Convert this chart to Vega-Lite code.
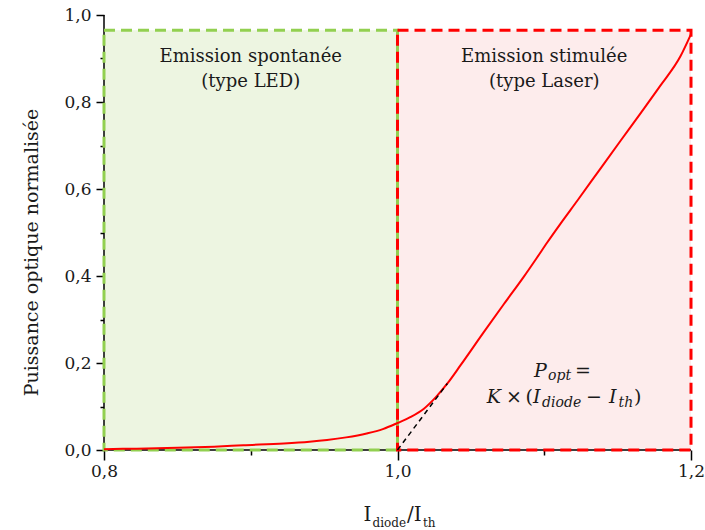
{
  "$schema": "https://vega.github.io/schema/vega-lite/v6.json",
  "width": 587,
  "height": 435,
  "autosize": "none",
  "padding": {"left": 104, "top": 15, "right": 14, "bottom": 80},
  "background": "white",
  "config": {"view": {"stroke": null}, "font": "DejaVu Serif"},
  "datasets": {
    "rects": [
      {"region": "spont", "x": 0.8, "x2": 1.0, "y": 0, "y2": 0.965},
      {"region": "stim", "x": 1.0, "x2": 1.2, "y": 0, "y2": 0.965}
    ],
    "axlines": [
      {"x": 0.8, "x2": 0.8, "y": 0, "y2": 1.0},
      {"x": 0.8, "x2": 1.2, "y": 0, "y2": 0}
    ],
    "curve": [
      {"x": 0.8, "y": 0.002}, {"x": 0.82, "y": 0.003}, {"x": 0.85, "y": 0.005},
      {"x": 0.875, "y": 0.0077}, {"x": 0.895, "y": 0.011}, {"x": 0.9225, "y": 0.015},
      {"x": 0.94, "y": 0.019}, {"x": 0.952, "y": 0.023}, {"x": 0.965, "y": 0.029},
      {"x": 0.979, "y": 0.038}, {"x": 0.99, "y": 0.048}, {"x": 1.0, "y": 0.062},
      {"x": 1.009, "y": 0.076}, {"x": 1.018, "y": 0.095}, {"x": 1.026, "y": 0.121},
      {"x": 1.034, "y": 0.153}, {"x": 1.043, "y": 0.195}, {"x": 1.0588, "y": 0.271},
      {"x": 1.0724, "y": 0.335}, {"x": 1.086, "y": 0.398}, {"x": 1.095, "y": 0.442},
      {"x": 1.102, "y": 0.477}, {"x": 1.111, "y": 0.520}, {"x": 1.1225, "y": 0.573},
      {"x": 1.1383, "y": 0.647}, {"x": 1.152, "y": 0.711}, {"x": 1.1656, "y": 0.774},
      {"x": 1.179, "y": 0.837}, {"x": 1.1928, "y": 0.905}, {"x": 1.2, "y": 0.956}
    ],
    "tangent": [{"x": 1.0, "y": 0}, {"x": 1.034, "y": 0.153}],
    "regionText": [
      {"t": "Emission spontanée", "x": 0.9, "y": 0.8926},
      {"t": "(type LED)", "x": 0.9, "y": 0.8352},
      {"t": "Emission stimulée", "x": 1.1, "y": 0.8926},
      {"t": "(type Laser)", "x": 1.1, "y": 0.8352}
    ],
    "xtitle": [
      {"t": "I", "x": 0.9768, "y": -0.1632, "fs": 20},
      {"t": "diode", "x": 0.9830, "y": -0.177, "fs": 12},
      {"t": "/I", "x": 1.0065, "y": -0.1632, "fs": 20},
      {"t": "th", "x": 1.0174, "y": -0.177, "fs": 12}
    ],
    "mathItalic": [
      {"t": "P", "x": 1.0930, "y": 0.1685, "fs": 19},
      {"t": "opt", "x": 1.1026, "y": 0.161, "fs": 14},
      {"t": "K", "x": 1.0608, "y": 0.1074, "fs": 19},
      {"t": "I", "x": 1.0923, "y": 0.1074, "fs": 19},
      {"t": "diode", "x": 1.0985, "y": 0.0995, "fs": 14},
      {"t": "I", "x": 1.1441, "y": 0.1074, "fs": 19},
      {"t": "th", "x": 1.1506, "y": 0.0995, "fs": 14}
    ],
    "mathUpright": [
      {"t": "=", "x": 1.1210, "y": 0.1685, "fs": 19},
      {"t": "×", "x": 1.0739, "y": 0.1074, "fs": 19},
      {"t": "(", "x": 1.0872, "y": 0.1074, "fs": 19},
      {"t": "−", "x": 1.1285, "y": 0.1074, "fs": 19},
      {"t": ")", "x": 1.1612, "y": 0.1074, "fs": 19}
    ]
  },
  "resolve": {"axis": {"x": "independent", "y": "independent"}},
  "layer": [
    {
      "data": {"name": "rects"},
      "mark": {"type": "rect"},
      "encoding": {
        "x": {"field": "x", "type": "quantitative", "scale": {"domain": [0.8, 1.2], "nice": false, "zero": false},
          "axis": {"orient": "bottom", "values": [0.8, 1.0, 1.2], "labelExpr": "replace(format(datum.value, '.1f'), '.', ',')",
            "domain": false, "grid": false, "tickSize": 10, "tickColor": "black", "tickWidth": 1.5,
            "labelFontSize": 17, "labelPadding": 3, "labelColor": "#1a1a1a", "labelFont": "DejaVu Serif",
            "labelFlush": false, "labelOverlap": false, "title": null}},
        "x2": {"field": "x2"},
        "y": {"field": "y", "type": "quantitative", "scale": {"domain": [0, 1], "nice": false, "zero": false},
          "axis": {"orient": "left", "values": [0, 0.2, 0.4, 0.6, 0.8, 1.0], "labelExpr": "replace(format(datum.value, '.1f'), '.', ',')",
            "domain": false, "grid": false, "tickSize": 8, "tickColor": "black", "tickWidth": 1.5,
            "labelFontSize": 17, "labelPadding": 5, "labelColor": "#1a1a1a", "labelFont": "DejaVu Serif",
            "labelFlush": false, "labelOverlap": false,
            "title": "Puissance optique normalisée", "titleFont": "DejaVu Serif", "titleFontSize": 19,
            "titleFontWeight": "normal", "titleColor": "#1a1a1a", "titlePadding": 22, "titleY": 237}},
        "y2": {"field": "y2"},
        "fill": {"field": "region", "type": "nominal", "scale": {"domain": ["spont", "stim"], "range": ["#EDF5E1", "#FDECEC"]}, "legend": null}
      }
    },
    {
      "data": {"name": "axlines"},
      "mark": {"type": "rule", "color": "black", "strokeWidth": 1.5},
      "encoding": {
        "x": {"field": "x", "type": "quantitative", "scale": {"domain": [0.8, 1.2], "nice": false, "zero": false},
          "axis": {"orient": "bottom", "values": [0.9, 1.1], "labels": false, "domain": false, "grid": false,
            "tickSize": 5, "tickColor": "black", "tickWidth": 1.5, "title": null}},
        "x2": {"field": "x2"},
        "y": {"field": "y", "type": "quantitative", "scale": {"domain": [0, 1], "nice": false, "zero": false},
          "axis": {"orient": "left", "values": [0.1, 0.3, 0.5, 0.7, 0.9], "labels": false, "domain": false, "grid": false,
            "tickSize": 4, "tickColor": "black", "tickWidth": 1.5, "title": null}},
        "y2": {"field": "y2"}
      }
    },
    {
      "data": {"name": "rects"},
      "mark": {"type": "rect", "filled": false, "strokeWidth": 3, "strokeDash": [11, 6]},
      "encoding": {
        "x": {"field": "x", "type": "quantitative", "scale": {"domain": [0.8, 1.2]}, "axis": null},
        "x2": {"field": "x2"},
        "y": {"field": "y", "type": "quantitative", "scale": {"domain": [0, 1]}, "axis": null},
        "y2": {"field": "y2"},
        "stroke": {"field": "region", "type": "nominal", "scale": {"domain": ["spont", "stim"], "range": ["#92D050", "#FF0000"]}, "legend": null}
      }
    },
    {
      "data": {"name": "curve"},
      "mark": {"type": "line", "color": "#FF0000", "strokeWidth": 2, "interpolate": "monotone"},
      "encoding": {
        "x": {"field": "x", "type": "quantitative", "scale": {"domain": [0.8, 1.2]}, "axis": null},
        "y": {"field": "y", "type": "quantitative", "scale": {"domain": [0, 1]}, "axis": null}
      }
    },
    {
      "data": {"name": "tangent"},
      "mark": {"type": "line", "color": "black", "strokeWidth": 1.5, "strokeDash": [5, 4]},
      "encoding": {
        "x": {"field": "x", "type": "quantitative", "scale": {"domain": [0.8, 1.2]}, "axis": null},
        "y": {"field": "y", "type": "quantitative", "scale": {"domain": [0, 1]}, "axis": null}
      }
    },
    {
      "data": {"name": "regionText"},
      "mark": {"type": "text", "font": "DejaVu Serif", "fontSize": 18, "align": "center", "baseline": "alphabetic", "color": "#1a1a1a"},
      "encoding": {
        "x": {"field": "x", "type": "quantitative", "scale": {"domain": [0.8, 1.2]}, "axis": null},
        "y": {"field": "y", "type": "quantitative", "scale": {"domain": [0, 1]}, "axis": null},
        "text": {"field": "t"}
      }
    },
    {
      "data": {"name": "xtitle"},
      "mark": {"type": "text", "font": "DejaVu Serif", "align": "left", "baseline": "alphabetic", "color": "#1a1a1a"},
      "encoding": {
        "x": {"field": "x", "type": "quantitative", "scale": {"domain": [0.8, 1.2]}, "axis": null},
        "y": {"field": "y", "type": "quantitative", "scale": {"domain": [0, 1]}, "axis": null},
        "size": {"field": "fs", "type": "quantitative", "scale": null, "legend": null},
        "text": {"field": "t"}
      }
    },
    {
      "data": {"name": "mathItalic"},
      "mark": {"type": "text", "font": "DejaVu Serif", "fontStyle": "italic", "align": "left", "baseline": "alphabetic", "color": "#1a1a1a"},
      "encoding": {
        "x": {"field": "x", "type": "quantitative", "scale": {"domain": [0.8, 1.2]}, "axis": null},
        "y": {"field": "y", "type": "quantitative", "scale": {"domain": [0, 1]}, "axis": null},
        "size": {"field": "fs", "type": "quantitative", "scale": null, "legend": null},
        "text": {"field": "t"}
      }
    },
    {
      "data": {"name": "mathUpright"},
      "mark": {"type": "text", "font": "DejaVu Serif", "align": "left", "baseline": "alphabetic", "color": "#1a1a1a"},
      "encoding": {
        "x": {"field": "x", "type": "quantitative", "scale": {"domain": [0.8, 1.2]}, "axis": null},
        "y": {"field": "y", "type": "quantitative", "scale": {"domain": [0, 1]}, "axis": null},
        "size": {"field": "fs", "type": "quantitative", "scale": null, "legend": null},
        "text": {"field": "t"}
      }
    }
  ]
}
